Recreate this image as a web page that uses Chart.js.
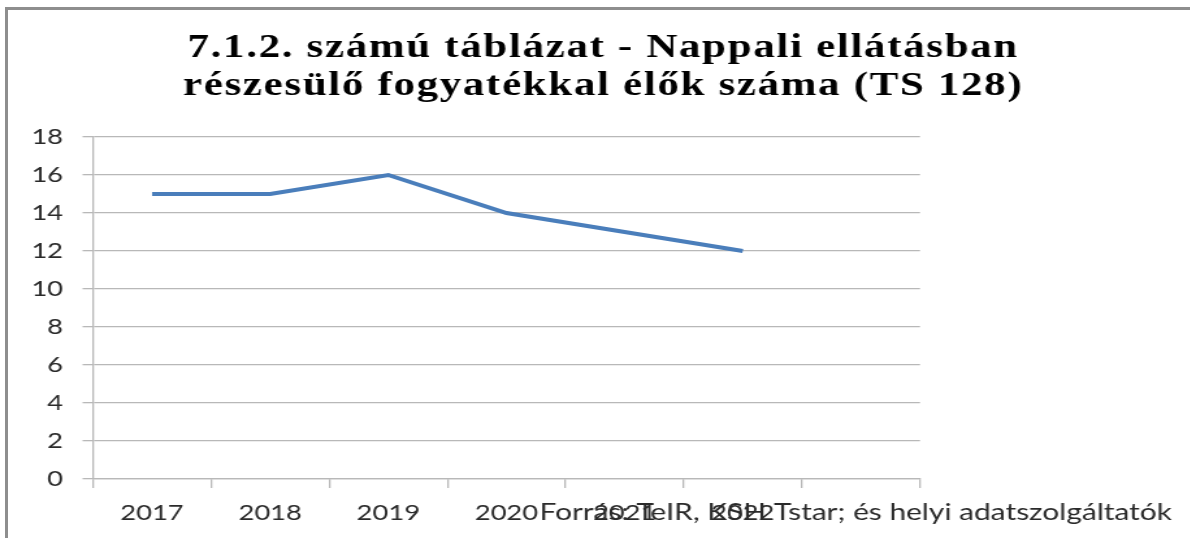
<!DOCTYPE html>
<html lang="hu">
<head>
<meta charset="utf-8">
<title>Nappali ellátásban részesülő fogyatékkal élők száma</title>
<script src="https://cdn.jsdelivr.net/npm/chart.js@4/dist/chart.umd.min.js"></script>
<style>
  html, body { margin: 0; padding: 0; background: #fff; overflow: hidden; }
  #frame {
    position: absolute; left: 5px; top: 7px; width: 1300px; height: 600px;
    border-left: 3px solid #8e8e8e; border-top: 3px solid #8e8e8e;
  }
  /* the sheet is drawn narrow and widened, like the exported image */
  #wrap {
    position: absolute; left: 0; top: 0;
    width: 915.4px; height: 538px;
    transform: scaleX(1.3); transform-origin: 0 0;
  }
</style>
</head>
<body>
<div id="frame"></div>
<div id="wrap"><canvas id="chart"></canvas></div>
<script>
// Adatok
const years = ["2017", "2018", "2019", "2020", "2021", "2022", ""];
const persons = [15, 15, 16, 14, 13, 12, null];
const yTicks = [0, 2, 4, 6, 8, 10, 12, 14, 16, 18];

const titleLines = [
    "7.1.2. számú táblázat - Nappali ellátásban",
    "részesülő fogyatékkal élők száma (TS 128)"
];
const sourceNote = "Forrás: TeIR, KSH Tstar; és helyi adatszolgáltatók";

const gridColor = "#b8b8b8";
const tickFont = { family: "Lato", size: 21 };

// Title and source note drawn straight onto the canvas
const captionPlugin = {
    id: "caption",
    afterDraw(chart) {
        const ctx = chart.ctx;
        ctx.save();
        ctx.fillStyle = "#000";
        ctx.textAlign = "center";
        ctx.textBaseline = "alphabetic";
        ctx.font = 'bold 33px "Liberation Serif"';
        ctx.letterSpacing = "1.3px";
        titleLines.forEach((line, i) => ctx.fillText(line, 464, 57 + i * 38));

        ctx.letterSpacing = "0px";
        ctx.font = '23px "Lato"';
        ctx.fillStyle = "#2a2a2a";
        ctx.textAlign = "right";
        ctx.fillText(sourceNote, 901.5, 520);
        ctx.restore();
    }
};

const ctx = document.getElementById("chart").getContext("2d");

new Chart(ctx, {
    type: "line",
    data: {
        labels: years,
        datasets: [{
            label: "Fő",
            data: persons,
            borderColor: "#4a7ebb",
            borderWidth: 4,
            pointRadius: 0,
            tension: 0,
            fill: false
        }]
    },
    options: {
        responsive: true,
        maintainAspectRatio: false,
        animation: false,
        layout: { padding: { top: 137, right: 207.7, bottom: 0, left: 0 } },
        plugins: {
            legend: { display: false },
            title: { display: false },
            tooltip: { enabled: false }
        },
        scales: {
            x: {
                type: "category",
                offset: true,
                grid: {
                    offset: true,
                    drawOnChartArea: false,
                    drawTicks: true,
                    tickLength: 9,
                    color: gridColor,
                    lineWidth: 1.3
                },
                border: { display: true, color: gridColor, width: 1.3 },
                ticks: { color: "#2a2a2a", font: tickFont, padding: 13, maxRotation: 0, autoSkip: false },
                afterFit(scale) { scale.height = 59; }
            },
            y: {
                min: 0,
                max: 18,
                afterBuildTicks(scale) { scale.ticks = yTicks.map(v => ({ value: v })); },
                grid: {
                    color: gridColor,
                    lineWidth: 1.3,
                    drawTicks: true,
                    tickLength: 8
                },
                border: { display: true, color: gridColor, width: 1.3 },
                ticks: { color: "#2a2a2a", font: tickFont, padding: 15 },
                afterFit(scale) { scale.width = 71.5; }
            }
        }
    },
    plugins: [captionPlugin]
});
</script>
</body>
</html>
